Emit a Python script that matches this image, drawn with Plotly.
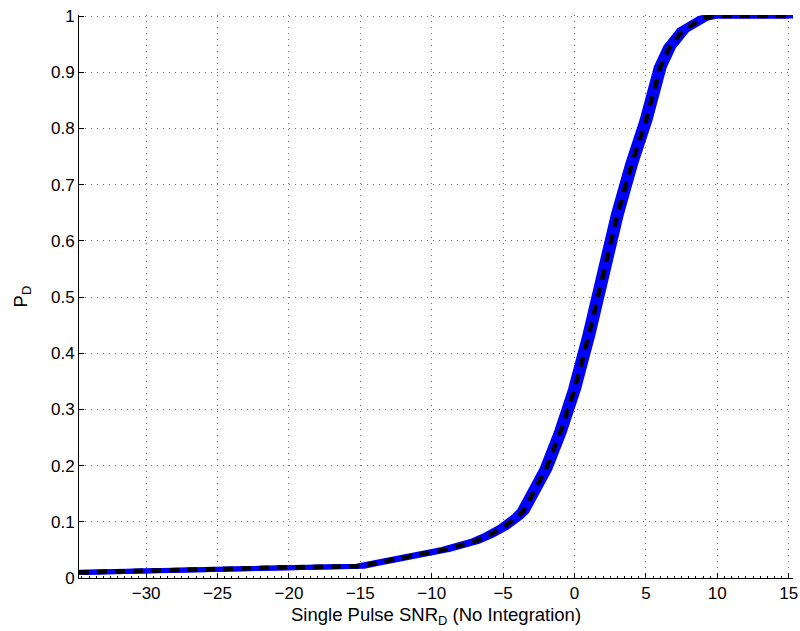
import plotly.graph_objects as go

# Data
snr_db = [-34.7, -30, -25, -23, -20, -15, -14, -13, -12, -11, -10, -9, -8, -7, -6, -5,
          -4, -3.6, -3, -2, -1, 0, 1, 2, 3, 4, 5, 6, 6.66, 7.6, 9.0, 9.7, 12, 15.3]
pd_curve = [0.010, 0.013, 0.015, 0.018, 0.019, 0.021, 0.026, 0.031, 0.035, 0.040, 0.045,
            0.051, 0.058, 0.065, 0.076, 0.090, 0.109, 0.119, 0.147, 0.194, 0.259, 0.336,
            0.432, 0.540, 0.647, 0.737, 0.814, 0.909, 0.945, 0.975, 0.996, 1.0, 1.0, 1.0]
x_ticks = [-30, -25, -20, -15, -10, -5, 0, 5, 10, 15]
y_ticks = [0, 0.1, 0.2, 0.3, 0.4, 0.5, 0.6, 0.7, 0.8, 0.9, 1]
y_tick_text = ["0", "0.1", "0.2", "0.3", "0.4", "0.5", "0.6", "0.7", "0.8", "0.9", "1"]

spread = 0.28  # horizontal spread of the blue band (dB)
BLUE = "#0000ff"

fig = go.Figure()
fig.add_trace(go.Scatter(x=[v - spread for v in snr_db], y=pd_curve, mode="lines",
                         line=dict(color=BLUE, width=5), showlegend=False))
fig.add_trace(go.Scatter(x=[v + spread for v in snr_db], y=pd_curve, mode="lines",
                         line=dict(color=BLUE, width=5), fill="tonextx",
                         fillcolor=BLUE, showlegend=False))
fig.add_trace(go.Scatter(x=snr_db, y=pd_curve, mode="lines",
                         line=dict(color="black", width=4.5, dash="10px,8px"),
                         showlegend=False))

axis_common = dict(showline=True, linecolor="black", linewidth=1, mirror=False,
                   ticks="inside", ticklen=5, tickcolor="black", tickwidth=1,
                   showgrid=True, gridcolor="rgba(60,60,60,0.75)", gridwidth=1,
                   griddash="1px,5px", zeroline=False, automargin=False,
                   tickfont=dict(size=17))

fig.update_layout(
    width=800, height=631,
    margin=dict(l=79, r=7, t=15, b=53),
    paper_bgcolor="white", plot_bgcolor="white",
    font=dict(family="Liberation Sans, Arial, sans-serif", size=17, color="black"),
    xaxis=dict(range=[-34.7, 15.3], tickvals=x_ticks,
               minor=dict(dtick=0.5, tick0=0, ticks="inside", ticklen=2,
                          tickcolor="black", showgrid=False),
               **axis_common),
    yaxis=dict(range=[0, 1.002], tickvals=y_ticks, ticktext=y_tick_text,
               **axis_common),
    annotations=[
        dict(text="Single Pulse SNR<sub>D</sub> (No Integration)", xref="paper",
             yref="paper", x=0.5, y=-0.042, xanchor="center", yanchor="top",
             showarrow=False, font=dict(size=18.5)),
        dict(text="P<sub>D</sub>", xref="paper", yref="paper", x=-0.08, y=0.5,
             xanchor="center", yanchor="middle", textangle=-90, showarrow=False,
             font=dict(size=18.5)),
    ],
)

# Remove the default page margin so the 800x631 figure fills the window exactly.
fig.write_html(
    "out.html",
    config={"displayModeBar": False},
    post_script="document.body.style.margin='0';document.body.style.overflow='hidden';",
)
